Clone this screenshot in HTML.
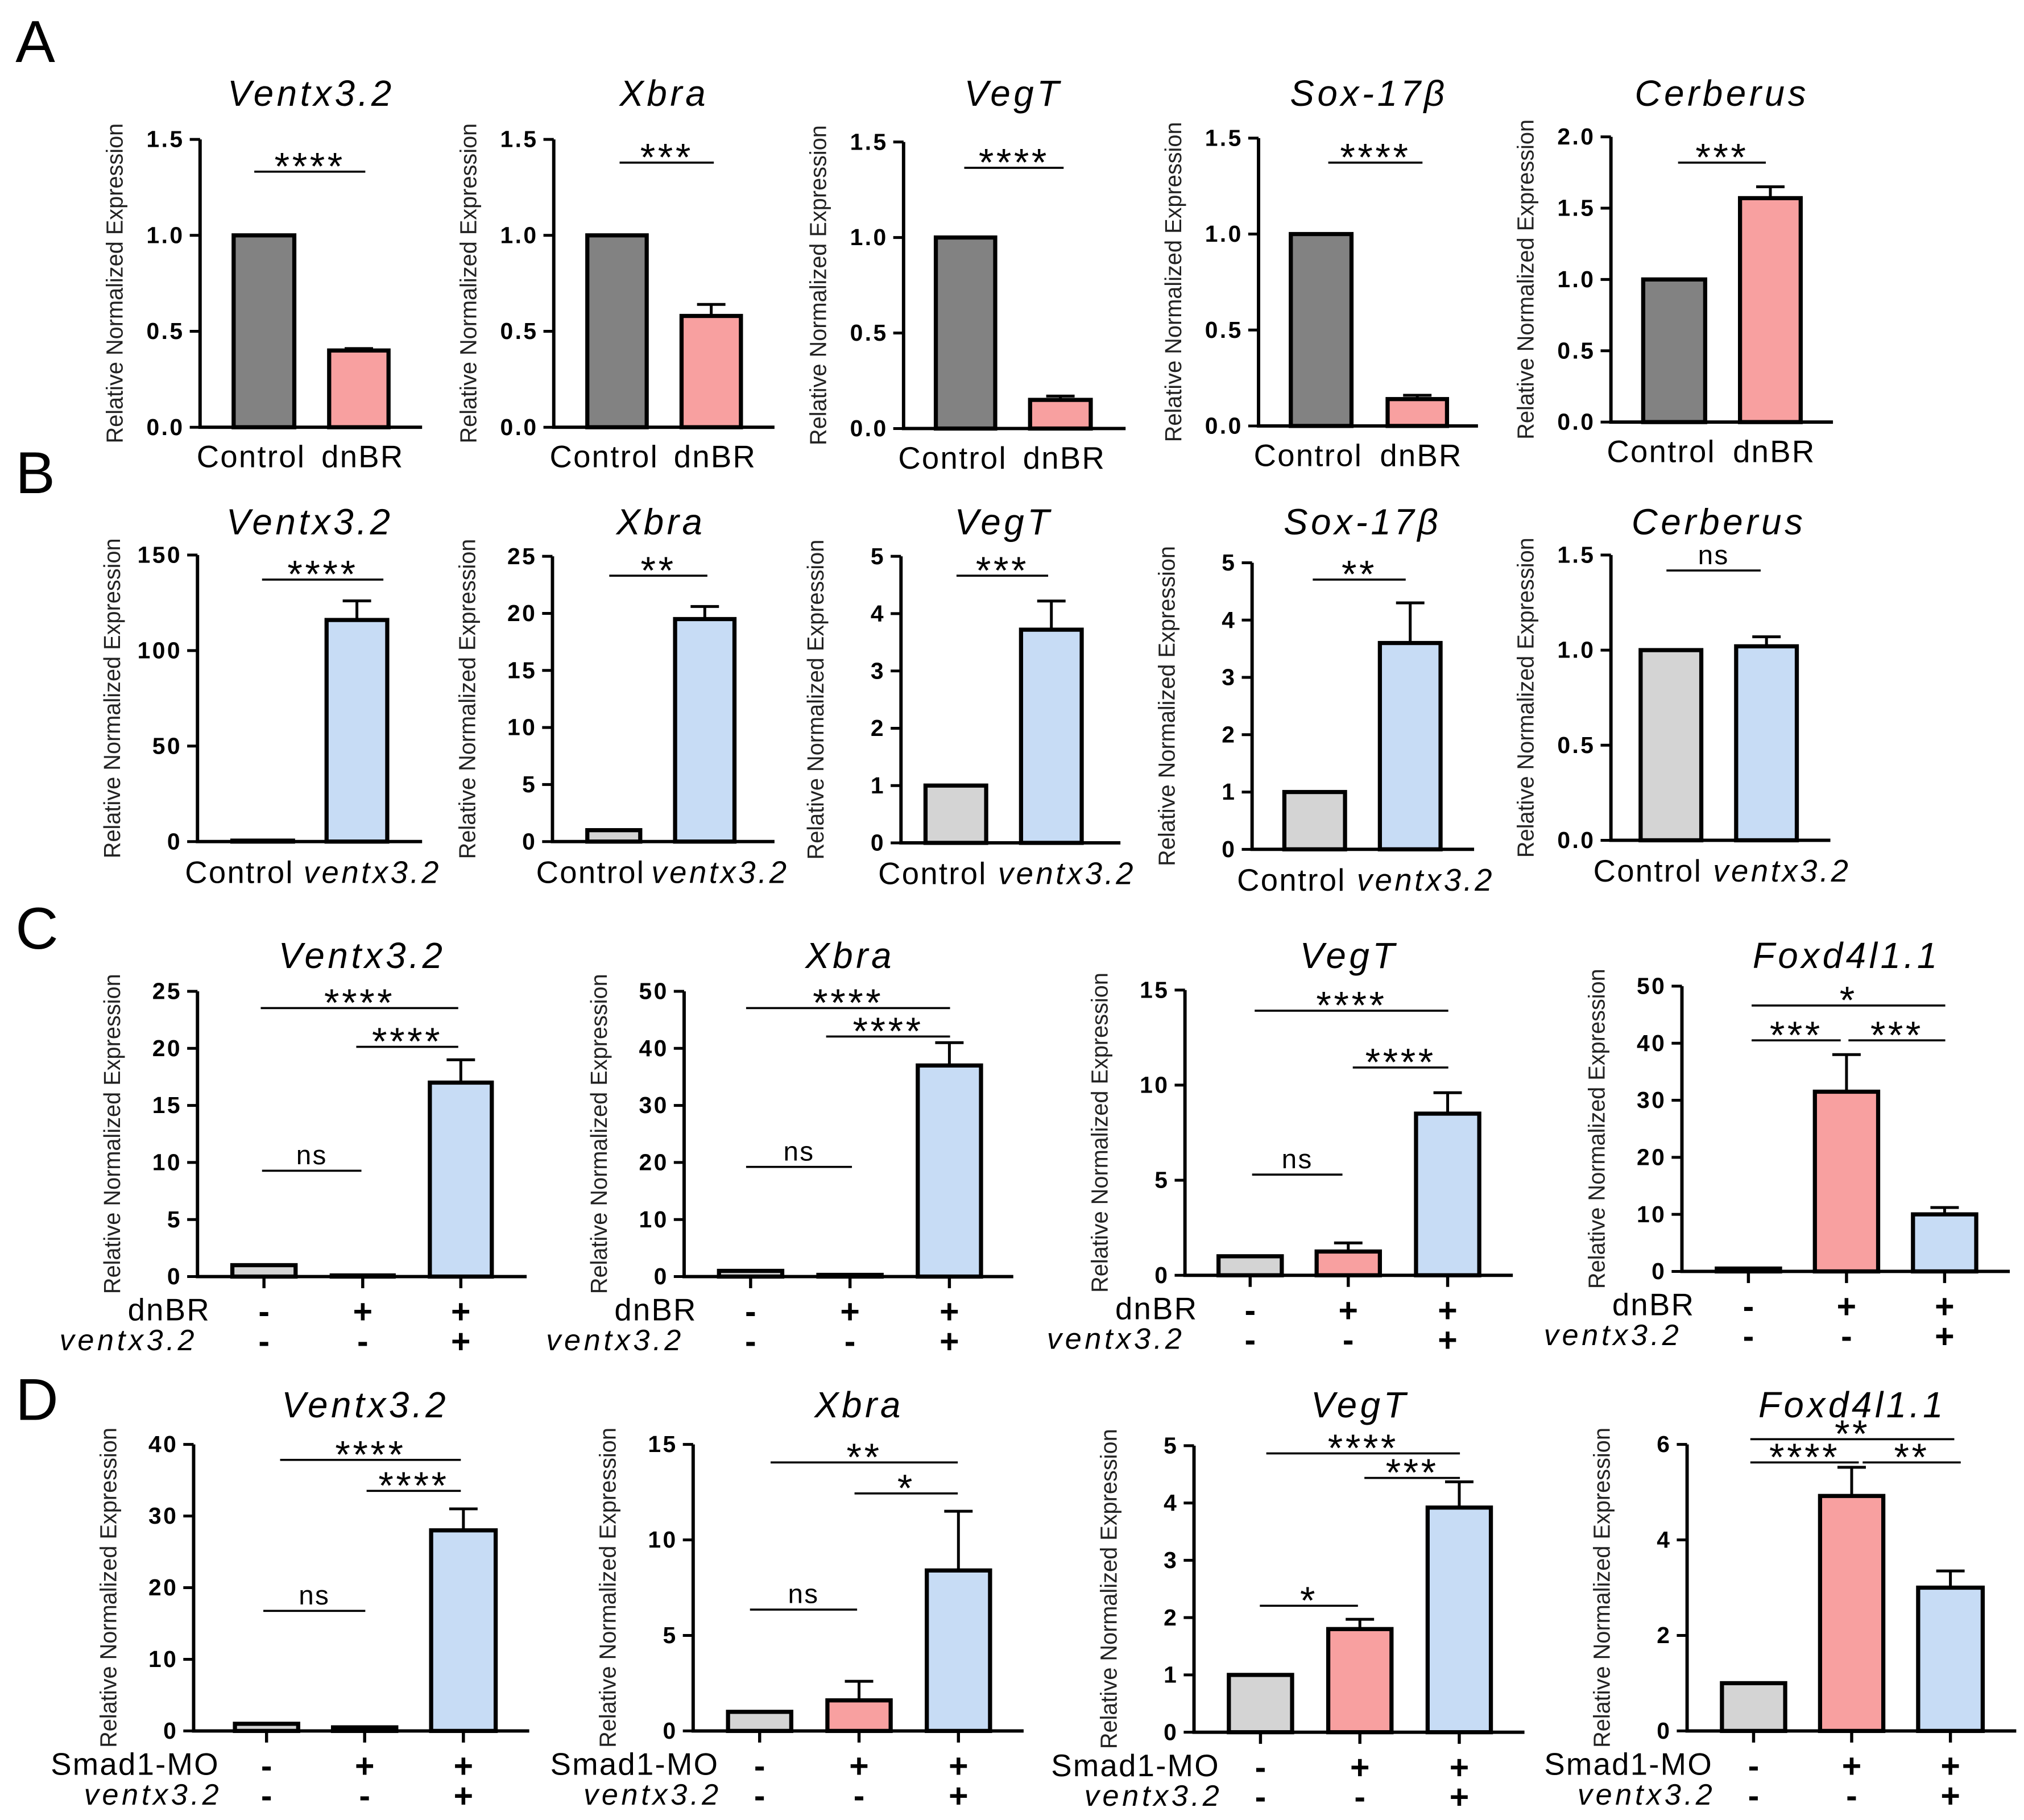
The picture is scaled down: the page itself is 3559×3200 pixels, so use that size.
<!DOCTYPE html>
<html><head><meta charset="utf-8"><style>
html,body{margin:0;padding:0;background:#fff}
svg{display:block}
text{font-family:"Liberation Sans",sans-serif}
</style></head><body>
<svg id="fig" width="3559" height="3200" viewBox="0 0 1568 1410" preserveAspectRatio="none" xmlns="http://www.w3.org/2000/svg"></svg>
<script>
// ---- data ----
const titlesA=["Ventx3.2","Xbra","VegT","Sox-17β","Cerberus"];
const valuesA=[[1,0.40],[1,0.58],[1,0.15],[1,0.14],[1,1.57]];
const errorsA=[[0,0.01],[0,0.06],[0,0.02],[0,0.02],[0,0.08]];
const yMaxA=[1.5,1.5,1.5,1.5,2.0];
const yStepA=[0.5,0.5,0.5,0.5,0.5];
const sigA=["****","***","****","****","***"];

const titlesB=["Ventx3.2","Xbra","VegT","Sox-17β","Cerberus"];
const valuesB=[[0.5,116],[1,19.5],[1,3.72],[1,3.6],[1,1.02]];
const errorsB=[[0,10],[0,1.1],[0,0.5],[0,0.7],[0,0.05]];
const yMaxB=[150,25,5,5,1.5];
const yStepB=[50,5,1,1,0.5];
const sigB=["****","**","***","**","ns"];

const titlesC=["Ventx3.2","Xbra","VegT","Foxd4l1.1"];
const valuesC=[[1,0.1,17],[1,0.3,37],[1,1.25,8.5],[0.5,31.5,10]];
const errorsC=[[0,0,2],[0,0,4],[0,0.45,1.1],[0,6.5,1.2]];
const yMaxC=[25,50,15,50];
const yStepC=[5,10,5,10];
const sigC=[["****","****","ns"],["****","****","ns"],["****","****","ns"],["*","***","***"]];

const titlesD=["Ventx3.2","Xbra","VegT","Foxd4l1.1"];
const valuesD=[[1,0.5,28],[1,1.6,8.4],[1,1.8,3.92],[1,4.92,3]];
const errorsD=[[0,0,3],[0,1,3.1],[0,0.17,0.45],[0,0.6,0.35]];
const yMaxD=[40,15,5,6];
const yStepD=[10,5,1,2];
const sigD=[["****","****","ns"],["**","*","ns"],["****","***","*"],["**","****","**"]];

// ---- layout (pixel geometry, not data) ----
const geomA=[{ax:155,top:108,bot:331,end:327,bars:[[181,228],[255,301]]},{ax:429,top:108,bot:331,end:600,bars:[[455,501],[528,574]]},{ax:700,top:110,bot:332,end:872,bars:[[725,771],[798,845]]},{ax:975,top:107,bot:330,end:1145,bars:[[1000,1047],[1075,1121]]},{ax:1248,top:106,bot:327,end:1420,bars:[[1273,1321],[1348,1395]]}];
const brA=[[133,197,283],[126,480,553],[130,747,824],[126,1029,1102],[126,1300,1368]];
const geomB=[{ax:153,top:430,bot:652,end:327,bars:[[180,227],[253,300]]},{ax:428,top:431,bot:652,end:600,bars:[[455,496],[523,569]]},{ax:698,top:431,bot:653,end:868,bars:[[717,764],[791,838]]},{ax:970,top:436,bot:658,end:1142,bars:[[995,1042],[1069,1116]]},{ax:1248,top:430,bot:651,end:1418,bars:[[1271,1318],[1345,1392]]}];
const brB=[[449,203,297],[446,472,548],[446,741,812],[449,1017,1089],[442,1291,1364]];
const geomC=[{ax:153,top:768,bot:989,end:408,bars:[[180,229],[257,305],[333,381]]},{ax:530,top:768,bot:989,end:785,bars:[[557,606],[634,683],[711,760]]},{ax:918,top:767,bot:988,end:1172,bars:[[944,993],[1020,1069],[1097,1146]]},{ax:1303,top:764,bot:985,end:1557,bars:[[1330,1379],[1406,1455],[1482,1531]]}];
const brC=[[[781,202,355],[811,276,355],[907,203,280]],[[781,578,736],[803,640,736],[904,578,660]],[[783,972,1122],[827,1048,1122],[910,970,1040]],[[779,1357,1507],[806,1357,1426],[806,1432,1507]]];
const geomD=[{ax:150,top:1119,bot:1341,end:410,bars:[[182,231],[258,307],[334,384]]},{ax:537,top:1119,bot:1341,end:793,bars:[[564,613],[641,690],[718,767]]},{ax:925,top:1120,bot:1342,end:1181,bars:[[952,1001],[1029,1078],[1106,1155]]},{ax:1307,top:1119,bot:1341,end:1562,bars:[[1334,1383],[1410,1459],[1486,1536]]}];
const brD=[[[1131,217,357],[1155,284,357],[1248,204,283]],[[1133,597,742],[1157,662,742],[1247,581,664]],[[1126,981,1131],[1145,1057,1131],[1244,976,1052]],[[1115,1356,1514],[1133,1356,1440],[1133,1443,1519]]];

const svg=document.getElementById('fig');
const NS="http://www.w3.org/2000/svg";
function mk(tag,attrs,txt,parent){const e=document.createElementNS(NS,tag);for(const k in attrs)e.setAttribute(k,attrs[k]);if(txt!==undefined)e.textContent=txt;(parent||svg).appendChild(e);return e;}

function fmt(v,step){return step<1?v.toFixed(1):String(v);}

function panel(id,g,title,vals,errs,ymax,ystep,colors,titleY,brs,sigs){
  const grp=mk('g',{});
  
  
  const y=v=>g.bot-(v/ymax)*(g.bot-g.top);
  const cx=(g.bars[0][0]+g.bars[g.bars.length-1][1])/2;
  const t=mk('text',{x:cx,y:titleY,'text-anchor':'middle','font-size':28,'font-style':'italic','letter-spacing':2.5},title,grp);
  
  
  const ym=(g.top+g.bot)/2;
  const yt=mk('text',{x:0,y:0,transform:`translate(${g.ax-60},${ym}) rotate(-90)`,'text-anchor':'middle','font-size':18,fill:'#222',textLength:248,lengthAdjust:'spacingAndGlyphs'},'Relative Normalized Expression',grp);
  
  
  vals.forEach((v,i)=>{
    const [x0,x1]=g.bars[i];
    const r=mk('rect',{x:x0,y:y(v),width:x1-x0,height:Math.max(g.bot-y(v),0.5),fill:colors[i],stroke:'#000','stroke-width':3.2},undefined,grp);
    
    
    const e=errs[i];
    if(e>0){
      const xc=(x0+x1)/2;
      const el=mk('path',{d:`M${xc},${y(v)} V${y(v+e)} M${xc-11},${y(v+e)} H${xc+11}`,stroke:'#000','stroke-width':2.2,fill:'none'},undefined,grp);
      
      
    }
  });
  const ax=mk('path',{d:`M${g.ax},${g.top} V${g.bot} H${g.end}`,stroke:'#000','stroke-width':2.6,fill:'none'},undefined,grp);
  
  
  for(let v=0;v<=ymax+1e-9;v+=ystep){
    const yy=y(v);
    mk('line',{x1:g.ax-8,x2:g.ax,y1:yy,y2:yy,stroke:'#000','stroke-width':2.2},undefined,grp);
    const tl=mk('text',{x:g.ax-12,y:yy+6,'text-anchor':'end','font-size':18,'font-weight':'bold','letter-spacing':1.5},fmt(v,ystep),grp);
    
    
  }
  brs.forEach((b,i)=>{
    mk('line',{x1:b[1],x2:b[2],y1:b[0],y2:b[0],stroke:'#000','stroke-width':1.6},undefined,grp);
    const isStar=sigs[i].indexOf('*')>=0;
    const s=mk('text',{x:(b[1]+b[2])/2,y:b[0]+(isStar?6:-5),'text-anchor':'middle','font-size':isStar?30:21,'letter-spacing':isStar?2:1},sigs[i],grp);
    
    
  });
  return {grp,y};
}

function letter(l,x,y){const t=mk('text',{x:x,y:y,'font-size':46},l);}
letter('A',12,48);letter('B',12,382);letter('C',12,735);letter('D',12,1100);

geomA.forEach((g,i)=>{
  const p=panel('panel-a-'+(i+1),g,titlesA[i],valuesA[i],errorsA[i],yMaxA[i],yStepA[i],['#828282','#f8a0a0'],82,[brA[i]],[sigA[i]]);
  ['Control','dnBR'].forEach((c,j)=>{const xc=(g.bars[j][0]+g.bars[j][1])/2;const t=mk('text',{x:xc+(j?3:-10),y:g.bot+31,'text-anchor':'middle','font-size':24,'letter-spacing':1},c,p.grp);});
});
geomB.forEach((g,i)=>{
  const p=panel('panel-b-'+(i+1),g,titlesB[i],valuesB[i],errorsB[i],yMaxB[i],yStepB[i],['#d4d4d4','#c7dcf5'],414,[brB[i]],[sigB[i]]);
  ['Control','ventx3.2'].forEach((c,j)=>{const xc=(g.bars[j][0]+g.bars[j][1])/2;const t=mk('text',{x:xc+(j?12:-18),y:g.bot+32,'text-anchor':'middle','font-size':24,'font-style':j?'italic':'normal','letter-spacing':j?2:1},c,p.grp);});
});
const signs1=['-','+','+'],signs2=['-','-','+'];
function rowCD(tag,geoms,titles,vals,errs,ymax,ystep,brs,sigs,titleY,rowLab){
  geoms.forEach((g,i)=>{
    const p=panel('panel-'+tag+'-'+(i+1),g,titles[i],vals[i],errs[i],ymax[i],ystep[i],['#d4d4d4','#f8a0a0','#c7dcf5'],titleY,brs[i],sigs[i]);
    g.bars.forEach((b,j)=>{
      const xc=(b[0]+b[1])/2;
      mk('line',{x1:xc,x2:xc,y1:g.bot,y2:g.bot+9,stroke:'#000','stroke-width':2.4},undefined,p.grp);
      const s1=mk('text',{x:xc,y:g.bot+36,'text-anchor':'middle','font-size':26,'font-weight':'bold'},signs1[j],p.grp);
      
      const s2=mk('text',{x:xc,y:g.bot+59,'text-anchor':'middle','font-size':26,'font-weight':'bold'},signs2[j],p.grp);
      
    });
    const l1=mk('text',{x:g.ax+(tag==='c'?10:20),y:g.bot+34,'text-anchor':'end','font-size':24,'letter-spacing':1},rowLab,p.grp);
    
    const l2=mk('text',{x:g.ax+(tag==='c'?0:22),y:g.bot+57,'text-anchor':'end','font-size':23,'font-style':'italic','letter-spacing':2.5},'ventx3.2',p.grp);
    
  });
}
rowCD('c',geomC,titlesC,valuesC,errorsC,yMaxC,yStepC,brC,sigC,750,'dnBR');
rowCD('d',geomD,titlesD,valuesD,errorsD,yMaxD,yStepD,brD,sigD,1098,'Smad1-MO');
</script>
</body></html>
